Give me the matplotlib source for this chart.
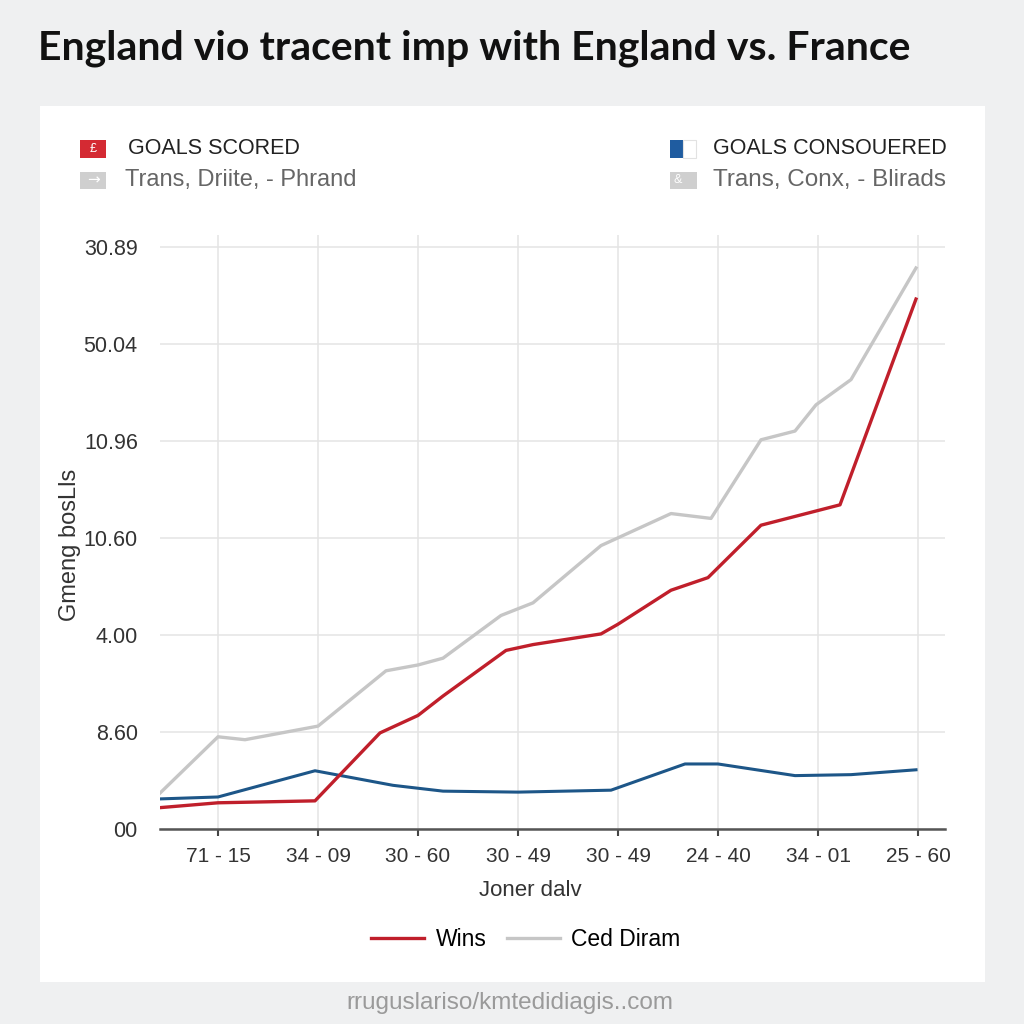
import matplotlib.pyplot as plt
from matplotlib.patches import Rectangle

# category labels on the x axis
x_labels = ["71 - 15", "34 - 09", "30 - 60", "30 - 49", "30 - 49", "24 - 40", "34 - 01", "25 - 60"]
# y tick labels as printed (evenly spaced)
y_labels = ["00", "8.60", "4.00", "10.60", "10.96", "50.04", "30.89"]

# series (x in category units, y in grid units)
wins_x = [-0.58, 0.0, 0.97, 1.62, 2.0, 2.25, 2.88, 3.15, 3.83, 4.0, 4.53, 4.9, 5.43, 6.22, 6.98]
wins_y = [0.22, 0.27, 0.29, 0.99, 1.17, 1.37, 1.84, 1.9, 2.01, 2.11, 2.46, 2.59, 3.13, 3.34, 5.46]

ced_x = [-0.58, 0.0, 0.27, 1.0, 1.68, 2.0, 2.25, 2.83, 3.15, 3.83, 4.0, 4.53, 4.93, 5.43, 5.77, 5.98, 6.33, 6.98]
ced_y = [0.37, 0.95, 0.92, 1.06, 1.63, 1.69, 1.76, 2.2, 2.33, 2.92, 3.0, 3.25, 3.2, 4.01, 4.1, 4.37, 4.63, 5.78]

conc_x = [-0.58, 0.0, 0.97, 1.75, 2.25, 3.0, 3.93, 4.67, 5.0, 5.77, 6.33, 6.98]
conc_y = [0.31, 0.33, 0.6, 0.45, 0.39, 0.38, 0.4, 0.67, 0.67, 0.55, 0.56, 0.61]

RED = "#c01f2b"
GRAY = "#c6c6c6"
BLUE = "#1d5688"

plt.rcParams['font.family'] = ['Liberation Sans', 'DejaVu Sans']

fig = plt.figure(figsize=(10.24, 10.24), dpi=100)
fig.patch.set_facecolor("#eff0f1")

# white card
fig.patches.append(Rectangle((40/1024, 1 - 982/1024), 945/1024, 876/1024,
                             transform=fig.transFigure, facecolor="white",
                             edgecolor="none", zorder=-5))

fig.text(38/1024, 1 - 48/1024, "England vio tracent imp with England vs. France",
         fontsize=29.5, fontweight="bold", family=["Lato", "DejaVu Sans"],
         color="#111111", va="center", ha="left")

ax = fig.add_axes([160/1024, 1 - 829/1024, 785/1024, 594/1024])
ax.set_zorder(1)
ax.set_facecolor("white")
ax.plot(ced_x, ced_y, color=GRAY, lw=2.4, label="Ced Diram", zorder=3)
ax.plot(conc_x, conc_y, color=BLUE, lw=2.2, zorder=3)
ax.plot(wins_x, wins_y, color=RED, lw=2.4, label="Wins", zorder=4)

ax.set_xlim(-0.58, 7.27)
ax.set_ylim(0, 6.12)
ax.set_xticks(range(len(x_labels)))
ax.set_xticklabels(x_labels, fontsize=15, color="#333333")
ax.set_yticks(range(len(y_labels)))
ax.set_yticklabels(y_labels, fontsize=15.5, color="#333333")
ax.tick_params(axis="x", length=5, width=1.5, color="#444444", pad=8)
ax.tick_params(axis="y", length=0, pad=16)
ax.grid(True, color="#e4e4e4", lw=1.1)
ax.set_axisbelow(True)
for s in ["top", "right", "left"]:
    ax.spines[s].set_visible(False)
ax.spines["bottom"].set_color("#555555")
ax.spines["bottom"].set_linewidth(1.8)

fig.text(530/1024, 1 - 890/1024, "Joner dalv", fontsize=16, color="#333333",
         ha="center", va="center")
fig.text(70/1024, 1 - 545/1024, "Gmeng bosLls", fontsize=17, color="#333333",
         ha="center", va="center", rotation=90)

# top legend
def swatch(x0, y0, w, h, color):
    fig.patches.append(Rectangle((x0/1024, 1 - (y0 + h)/1024), w/1024, h/1024,
                                 transform=fig.transFigure, facecolor=color,
                                 edgecolor="none", zorder=2))

swatch(80, 140, 26, 18, "#d42a33")
fig.text(93/1024, 1 - 149/1024, "£", fontsize=9, color="white", ha="center", va="center")
swatch(80, 172, 26, 17, "#cfcfcf")
fig.text(93/1024, 1 - 180/1024, "→", fontsize=11, color="white", ha="center", va="center",
         family=["DejaVu Sans"])
fig.text(128/1024, 1 - 149/1024, "GOALS SCORED", fontsize=15.5, color="#222222", va="center")
fig.text(125/1024, 1 - 180/1024, "Trans, Driite, - Phrand", fontsize=17, color="#666666", va="center")

swatch(670, 140, 13, 18, "#1f5ca0")
fig.patches.append(Rectangle((683/1024, 1 - 158/1024), 13/1024, 18/1024,
                             transform=fig.transFigure, facecolor="white",
                             edgecolor="#e2e2e2", lw=0.8, zorder=2))
swatch(670, 172, 27, 17, "#cfcfcf")
fig.text(678/1024, 1 - 180/1024, "&", fontsize=9, color="white", ha="center", va="center")
fig.text(713/1024, 1 - 149/1024, "GOALS CONSOUERED", fontsize=15.5, color="#222222", va="center")
fig.text(713/1024, 1 - 180/1024, "Trans, Conx, - Blirads", fontsize=17.5, color="#666666", va="center")

# bottom legend
handles, labels = ax.get_legend_handles_labels()
order = [1, 0]
fig.legend([handles[i] for i in order], [labels[i] for i in order],
           loc="center", bbox_to_anchor=(526/1024, 1 - 940/1024), ncol=2,
           frameon=False, fontsize=16.5, handlelength=2.3, columnspacing=0.9,
           handletextpad=0.5)

fig.text(510/1024, 1 - 1003/1024, "rruguslariso/kmtedidiagis..com", fontsize=17.5,
         color="#9a9a9a", ha="center", va="center")

fig.savefig("out.png", dpi=100, facecolor=fig.get_facecolor())
